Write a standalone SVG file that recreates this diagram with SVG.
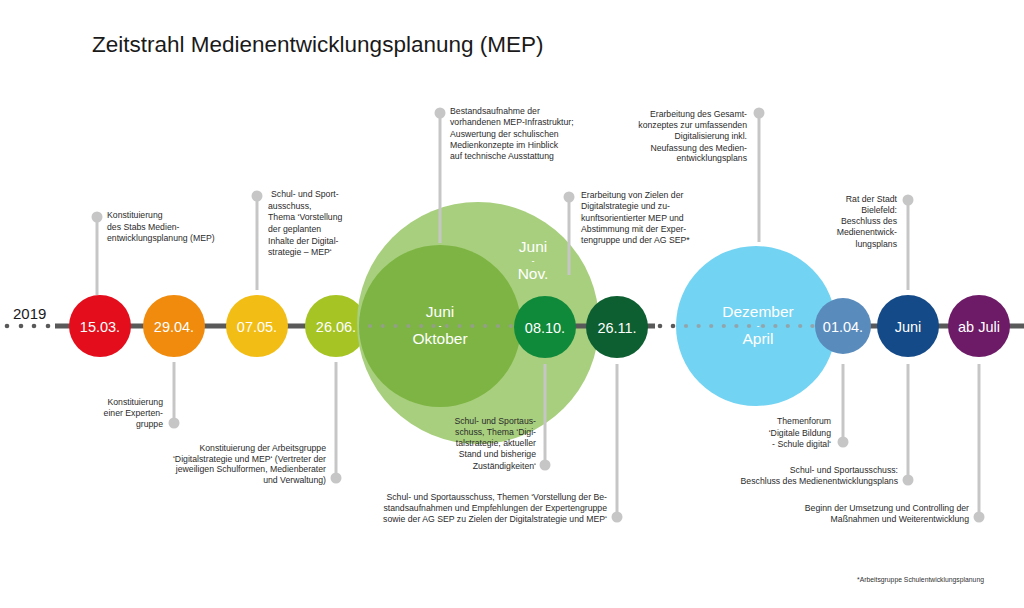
<svg xmlns="http://www.w3.org/2000/svg" width="1024" height="608" viewBox="0 0 1024 608">
<style>
text { font-family: "Liberation Sans", Arial, sans-serif; }
.title { font-size: 22.5px; fill: #1a1a1a; }
.year { font-size: 15px; fill: #1a1a1a; }
.ann { font-size: 8.7px; fill: #2b2b2b; }
.r { text-anchor: end; }
.date { font-size: 14.5px; fill: #ffffff; text-anchor: middle; }
.big { font-size: 15.5px; fill: #ffffff; text-anchor: middle; }
.dash { font-size: 8px; font-weight: bold; fill: #ffffff; text-anchor: middle; }
.foot { font-size: 6.8px; fill: #333333; }
.stem { stroke: #c6c6c6; stroke-width: 3; fill: none; }
.knob { fill: #c6c6c6; }
.tl { stroke: #595959; stroke-width: 5; fill: none; }
.dd { fill: #595959; }
.gd { fill: #9a9a9a; opacity: 0.8; }
</style>

<text class="title" x="92" y="52">Zeitstrahl Medienentwicklungsplanung (MEP)</text>
<text class="year" x="13" y="319">2019</text>

<g id="timeline-back">
  <circle class="dd" cx="7" cy="326" r="2.3"/>
  <circle class="dd" cx="21" cy="326" r="2.3"/>
  <circle class="dd" cx="34" cy="326" r="2.3"/>
  <circle class="dd" cx="48" cy="326" r="2.3"/>
  <line class="tl" x1="55" y1="326" x2="345" y2="326"/>
</g>

<g id="n-1503"><circle cx="100" cy="326" r="31" fill="#e30d1c"/><text class="date" x="100" y="332">15.03.</text></g>
<g id="n-2904"><circle cx="174" cy="326" r="31" fill="#f08b0d"/><text class="date" x="174" y="332">29.04.</text></g>
<g id="n-0705"><circle cx="257" cy="326" r="31" fill="#f2bd15"/><text class="date" x="257" y="332">07.05.</text></g>
<g id="n-2606"><circle cx="336" cy="326" r="31" fill="#a6c424"/><text class="date" x="336" y="332">26.06.</text></g>

<g id="n-juni-nov"><circle cx="478" cy="323" r="121" fill="#a8cf7d"/>
  <text class="big" x="533" y="252">Juni</text><text class="dash" x="533" y="262.8">-</text><text class="big" x="533" y="279">Nov.</text></g>
<g id="n-juni-okt"><circle cx="440" cy="326" r="81" fill="#7db443"/>
  <text class="big" x="440" y="317">Juni</text><text class="dash" x="440" y="327.8">-</text><text class="big" x="440" y="344">Oktober</text></g>
<g id="n-dez-apr"><circle cx="756" cy="326" r="80" fill="#73d3f2"/>
  <text class="big" x="758" y="317">Dezember</text><text class="dash" x="758" y="327.8">-</text><text class="big" x="758" y="344">April</text></g>

<g id="timeline-front">
  <circle class="gd" cx="370" cy="326" r="2.1"/>
  <circle class="gd" cx="382.8" cy="326" r="2.1"/>
  <circle class="gd" cx="395.6" cy="326" r="2.1"/>
  <circle class="gd" cx="408.4" cy="326" r="2.1"/>
  <circle class="gd" cx="421.2" cy="326" r="2.1"/>
  <circle class="gd" cx="433.5" cy="326" r="2.1"/>
  <circle class="gd" cx="446.8" cy="326" r="2.1"/>
  <circle class="gd" cx="459.6" cy="326" r="2.1"/>
  <circle class="gd" cx="472.4" cy="326" r="2.1"/>
  <circle class="gd" cx="485.2" cy="326" r="2.1"/>
  <circle class="gd" cx="498" cy="326" r="2.1"/>
  <circle class="gd" cx="510.8" cy="326" r="2.1"/>
  <line class="tl" x1="560" y1="326" x2="655" y2="326"/>
  <circle class="dd" cx="660" cy="326" r="2.3"/>
  <circle class="dd" cx="673" cy="326" r="2.3"/>
  <circle class="gd" cx="686" cy="326" r="2.1"/>
  <circle class="gd" cx="698.6" cy="326" r="2.1"/>
  <circle class="gd" cx="711.2" cy="326" r="2.1"/>
  <circle class="gd" cx="723.8" cy="326" r="2.1"/>
  <circle class="gd" cx="736.4" cy="326" r="2.1"/>
  <circle class="gd" cx="749" cy="326" r="2.1"/>
  <circle class="gd" cx="763" cy="326" r="2.1"/>
  <circle class="gd" cx="775.4" cy="326" r="2.1"/>
  <circle class="gd" cx="787.8" cy="326" r="2.1"/>
  <circle class="gd" cx="800.2" cy="326" r="2.1"/>
  <circle class="gd" cx="812.4" cy="326" r="2.1"/>
  <line class="tl" x1="830" y1="326" x2="1024" y2="326"/>
</g>

<g id="n-0810"><circle cx="545" cy="327" r="31" fill="#0f8a3b"/><text class="date" x="545" y="333">08.10.</text></g>
<g id="n-2611"><circle cx="617" cy="327" r="31" fill="#0d5e30"/><text class="date" x="617" y="333">26.11.</text></g>
<g id="n-0104"><circle cx="843" cy="326" r="28" fill="#5a8bbd"/><text class="date" x="843" y="332">01.04.</text></g>
<g id="n-juni"><circle cx="908" cy="326" r="31" fill="#144a87"/><text class="date" x="908" y="332">Juni</text></g>
<g id="n-abjuli"><circle cx="979" cy="326" r="31" fill="#6d1b67"/><text class="date" x="979" y="332">ab Juli</text></g>

<g id="connectors">
  <line class="stem" x1="97" y1="217" x2="97" y2="295"/><circle class="knob" cx="97" cy="217" r="5.5"/>
  <line class="stem" x1="257" y1="196" x2="257" y2="290"/><circle class="knob" cx="257" cy="196" r="5.5"/>
  <line class="stem" x1="174" y1="362" x2="174" y2="423"/><circle class="knob" cx="174" cy="423" r="5.5"/>
  <line class="stem" x1="336" y1="362" x2="336" y2="478"/><circle class="knob" cx="336" cy="478" r="5.5"/>
  <line class="stem" x1="440" y1="113" x2="440" y2="243"/><circle class="knob" cx="440" cy="113" r="5.5"/>
  <line class="stem" x1="569" y1="197" x2="569" y2="275"/><circle class="knob" cx="569" cy="197" r="5.5"/>
  <line class="stem" x1="759" y1="113" x2="759" y2="242"/><circle class="knob" cx="759" cy="113" r="5.5"/>
  <line class="stem" x1="908" y1="200" x2="908" y2="290"/><circle class="knob" cx="908" cy="200" r="5.5"/>
  <line class="stem" x1="545" y1="364" x2="545" y2="465"/><circle class="knob" cx="545" cy="465" r="5.5"/>
  <line class="stem" x1="617" y1="364" x2="617" y2="517"/><circle class="knob" cx="617" cy="517" r="5.5"/>
  <line class="stem" x1="843" y1="364" x2="843" y2="442"/><circle class="knob" cx="843" cy="442" r="5.5"/>
  <line class="stem" x1="908" y1="364" x2="908" y2="480"/><circle class="knob" cx="908" cy="480" r="5.5"/>
  <line class="stem" x1="979" y1="364" x2="979" y2="517"/><circle class="knob" cx="979" cy="517" r="5.5"/>
</g>

<g id="note-1503" class="ann">
  <text x="107" y="218">Konstituierung</text>
  <text x="107" y="229.5">des Stabs Medien-</text>
  <text x="107" y="241">entwicklungsplanung (MEP)</text>
</g>
<g id="note-0705" class="ann">
  <text x="271" y="197">Schul- und Sport-</text>
  <text x="268" y="208.7">ausschuss,</text>
  <text x="268" y="220.4">Thema ‘Vorstellung</text>
  <text x="268" y="232">der geplanten</text>
  <text x="268" y="243.7">Inhalte der Digital-</text>
  <text x="268" y="255.4">strategie – MEP‘</text>
</g>
<g id="note-2904" class="ann r">
  <text x="163" y="405">Konstituierung</text>
  <text x="163" y="416">einer Experten-</text>
  <text x="163" y="427">gruppe</text>
</g>
<g id="note-2606" class="ann r">
  <text x="326" y="451">Konstituierung der Arbeitsgruppe</text>
  <text x="326" y="461.7">‘Digitalstrategie und MEP‘ (Vertreter der</text>
  <text x="326" y="472.4">jeweiligen Schulformen, Medienberater</text>
  <text x="326" y="483">und Verwaltung)</text>
</g>
<g id="note-juni-okt" class="ann">
  <text x="450" y="114">Bestandsaufnahme der</text>
  <text x="450" y="125.3">vorhandenen MEP-Infrastruktur;</text>
  <text x="450" y="136.7">Auswertung der schulischen</text>
  <text x="450" y="148">Medienkonzepte im Hinblick</text>
  <text x="450" y="159.3">auf technische Ausstattung</text>
</g>
<g id="note-juni-nov" class="ann">
  <text x="581" y="198">Erarbeitung von Zielen der</text>
  <text x="581" y="209.3">Digitalstrategie und zu-</text>
  <text x="581" y="220.7">kunftsorientierter MEP und</text>
  <text x="581" y="232">Abstimmung mit der Exper-</text>
  <text x="581" y="243.3">tengruppe und der AG SEP*</text>
</g>
<g id="note-dez-apr" class="ann r">
  <text x="747" y="117">Erarbeitung des Gesamt-</text>
  <text x="747" y="128">konzeptes zur umfassenden</text>
  <text x="747" y="139.3">Digitalisierung inkl.</text>
  <text x="747" y="150.6">Neufassung des Medien-</text>
  <text x="747" y="161">entwicklungsplans</text>
</g>
<g id="note-juni-rat" class="ann r">
  <text x="897" y="202">Rat der Stadt</text>
  <text x="897" y="213">Bielefeld:</text>
  <text x="897" y="224">Beschluss des</text>
  <text x="897" y="235">Medienentwick-</text>
  <text x="897" y="246.5">lungsplans</text>
</g>
<g id="note-0810" class="ann r">
  <text x="536" y="424">Schul- und Sportaus-</text>
  <text x="536" y="435">schuss, Thema ‘Digi-</text>
  <text x="536" y="446">talstrategie, aktueller</text>
  <text x="536" y="457">Stand und bisherige</text>
  <text x="536" y="468.5">Zuständigkeiten‘</text>
</g>
<g id="note-2611" class="ann r">
  <text x="607" y="500">Schul- und Sportausschuss, Themen ‘Vorstellung der Be-</text>
  <text x="607" y="511">standsaufnahmen und Empfehlungen der Expertengruppe</text>
  <text x="607" y="522">sowie der AG SEP zu Zielen der Digitalstrategie und MEP‘</text>
</g>
<g id="note-0104" class="ann r">
  <text x="831" y="424">Themenforum</text>
  <text x="831" y="435.5">‘Digitale Bildung</text>
  <text x="831" y="447">- Schule digital‘</text>
</g>
<g id="note-juni" class="ann r">
  <text x="898" y="473">Schul- und Sportausschuss:</text>
  <text x="898" y="484">Beschluss des Medienentwicklungsplans</text>
</g>
<g id="note-abjuli" class="ann r">
  <text x="969" y="511">Beginn der Umsetzung und Controlling der</text>
  <text x="969" y="522">Maßnahmen und Weiterentwicklung</text>
</g>

<text class="foot" x="857" y="582">*Arbeitsgruppe Schulentwicklungsplanung</text>
</svg>
